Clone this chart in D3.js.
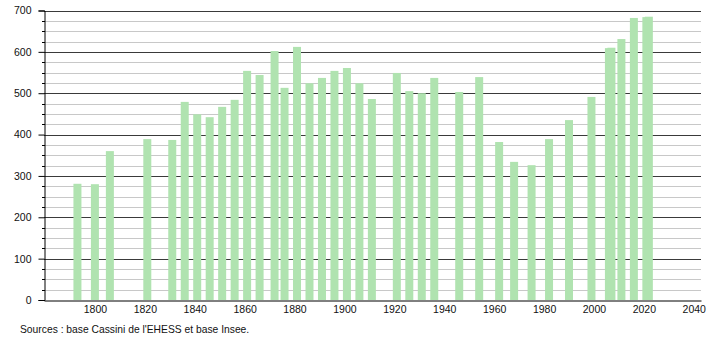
<!DOCTYPE html>
<html>
<head>
<meta charset="utf-8">
<script src="https://cdn.jsdelivr.net/npm/d3@7"></script>
<style>
  body { margin: 0; background: #fff; }
  svg { display: block; font-family: "Liberation Sans", Arial, sans-serif; }
</style>
</head>
<body>
<svg id="chart" width="710" height="340"></svg>
<script>
const years = [1793,1800,1806,1821,1831,1836,1841,1846,1851,1856,1861,1866,1872,1876,1881,1886,1891,1896,1901,1906,1911,1921,1926,1931,1936,1946,1954,1962,1968,1975,1982,1990,1999,2006,2007,2011,2016,2021,2022];
const population = [281,280,360,389,387,479,449,442,467,484,554,544,602,513,612,524,537,554,561,524,486,549,505,500,537,503,539,382,334,326,389,435,491,609,610,631,682,684,685];
const xTickLabels = [1800,1820,1840,1860,1880,1900,1920,1940,1960,1980,2000,2020,2040];
const yMajorTicks = [0,100,200,300,400,500,600,700];
const yMinorTicks = d3.range(0, 701, 25);
const sourceText = "Sources : base Cassini de l'EHESS et base Insee.";

const svg = d3.select("#chart");
const mLeft = 44, mRight = 701, mTop = 10.5, mBottom = 300;

const x = d3.scaleLinear().domain([1779.6, 2042.9]).range([mLeft, mRight]);
const y = d3.scaleLinear().domain([0, 700]).range([mBottom, mTop]);
const barW = 8;

// minor gridlines
svg.append("g").selectAll("line").data(yMinorTicks.filter(v => v % 100 !== 0)).join("line")
  .attr("x1", mLeft).attr("x2", mRight)
  .attr("y1", d => Math.round(y(d)) + 0.5).attr("y2", d => Math.round(y(d)) + 0.5)
  .attr("stroke", "#c8c8c8").attr("stroke-width", 1);

// major gridlines
svg.append("g").selectAll("line").data(yMajorTicks.filter(v => v > 0)).join("line")
  .attr("x1", mLeft).attr("x2", mRight)
  .attr("y1", d => Math.round(y(d)) + 0.5).attr("y2", d => Math.round(y(d)) + 0.5)
  .attr("stroke", "#3a3a3a").attr("stroke-width", 1);

// bars
const data = years.map((yr, i) => ({ year: yr, value: population[i] }));
svg.append("g").selectAll("rect").data(data).join("rect")
  .attr("x", d => x(d.year) - barW / 2)
  .attr("width", barW)
  .attr("y", d => y(d.value))
  .attr("height", d => y(0) - y(d.value))
  .attr("fill", "#b0e3b0");

// y axis
const yAxis = d3.axisLeft(y).tickValues(yMajorTicks).tickSize(6).tickPadding(7).tickFormat(d3.format("d"));
const gy = svg.append("g").attr("transform", `translate(${mLeft + 0.5},0)`).call(yAxis);
gy.select(".domain").attr("stroke", "#000");
gy.selectAll(".tick line").attr("stroke", "#000");
gy.selectAll(".tick text").attr("font-size", 10.5).attr("fill", "#111");
// minor ticks
svg.append("g").selectAll("line").data(yMinorTicks.filter(v => v % 100 !== 0)).join("line")
  .attr("x1", mLeft - 2).attr("x2", mLeft + 1)
  .attr("y1", d => Math.round(y(d)) + 0.5).attr("y2", d => Math.round(y(d)) + 0.5)
  .attr("stroke", "#000");

// x axis
const xAxis = d3.axisBottom(x).tickValues(xTickLabels).tickSize(0).tickPadding(5).tickFormat(d3.format("d"));
const gx = svg.append("g").attr("transform", `translate(0,${mBottom + 0.5})`).call(xAxis);
gx.select(".domain").attr("stroke", "#000");
gx.selectAll(".tick text").attr("font-size", 10.5).attr("fill", "#111");

// source
svg.append("text").attr("x", 20).attr("y", 333).attr("font-size", 10.3).attr("fill", "#111").text(sourceText);
</script>
</body>
</html>
